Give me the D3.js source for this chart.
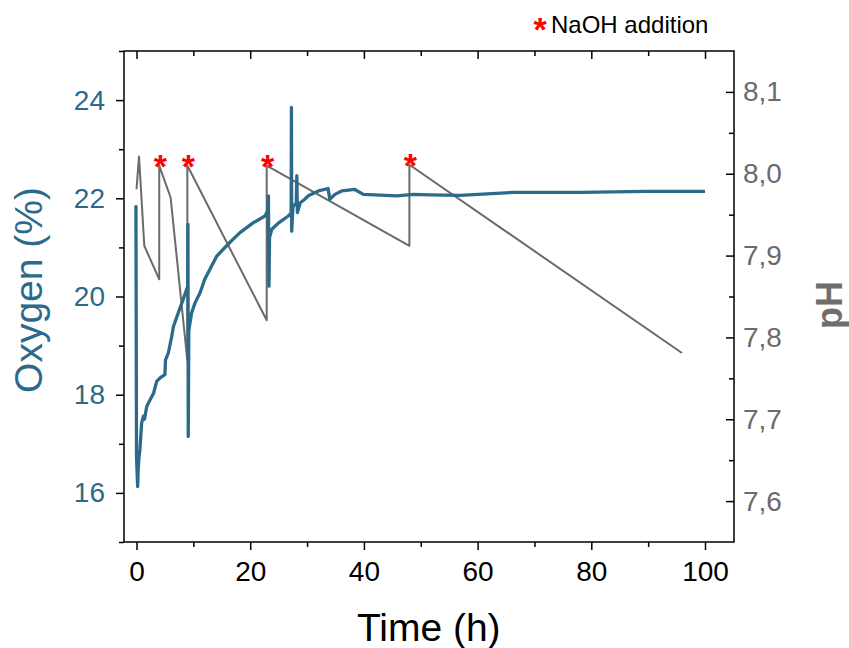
<!DOCTYPE html>
<html>
<head>
<meta charset="utf-8">
<script src="https://cdn.jsdelivr.net/npm/d3@7"></script>
<style>
  body { margin: 0; background: #fff; }
  svg { display: block; font-family: "Liberation Sans", Arial, sans-serif; }
</style>
</head>
<body>
<svg id="chart" width="849" height="648"></svg>
<script>
// ---- Data ----
const oxygenTime = [-0.1, 0.0, 0.2, 0.3, 0.44, 0.6, 0.9, 1.2, 1.4, 1.8, 2.4, 3.0, 3.55, 4.2, 5.0, 5.1, 5.6, 6.2, 6.5, 7.35, 8.2, 8.8, 9.0, 9.05, 9.1, 9.2, 9.4, 9.7, 10.3, 11.2, 12.0, 14.1, 16.4, 18.2, 20.5, 22.6, 23.1, 23.2, 23.3, 23.4, 23.8, 25.0, 26.7, 27.2, 27.25, 27.3, 27.5, 27.6, 28.1, 28.2, 28.3, 28.8, 29.6, 30.2, 32.0, 33.7, 34.0, 34.9, 36.1, 38.4, 39.9, 45.8, 48.7, 51.6, 56.9, 66.3, 78.0, 89.7, 100.0];
const oxygenValue = [21.86, 16.74, 16.13, 16.5, 16.74, 16.88, 17.42, 17.56, 17.5, 17.76, 17.90, 18.03, 18.27, 18.35, 18.41, 18.71, 18.85, 19.19, 19.39, 19.67, 19.94, 20.14, 20.2, 21.47, 17.15, 19.3, 19.46, 19.67, 19.87, 20.08, 20.35, 20.82, 21.10, 21.30, 21.50, 21.64, 21.75, 22.05, 20.21, 21.2, 21.37, 21.50, 21.64, 21.7, 23.85, 21.33, 21.8, 21.84, 21.9, 22.46, 21.71, 21.91, 21.98, 22.05, 22.15, 22.20, 21.98, 22.08, 22.15, 22.18, 22.08, 22.05, 22.08, 22.07, 22.06, 22.12, 22.12, 22.14, 22.14];

const phTime = [0, 0.44, 1.37, 4.0, 4.0, 6.0, 8.94, 8.94, 22.9, 22.9, 48.0, 48.0, 95.95];
const phValue = [7.981, 8.021, 7.912, 7.871, 8.010, 7.971, 7.772, 8.010, 7.821, 8.010, 7.912, 8.011, 7.781];

const additionTime = [4.0, 8.94, 22.9, 48.0];
const additionPH = [8.010, 8.010, 8.010, 8.011];

const xMajorTicks = [0, 20, 40, 60, 80, 100];
const xMinorTicks = [10, 30, 50, 70, 90];
const oxygenMajorTicks = [16, 18, 20, 22, 24];
const oxygenMinorTicks = [15, 17, 19, 21, 23, 25];
const phMajorTicks = [7.6, 7.7, 7.8, 7.9, 8.0, 8.1];
const phMinorTicks = [7.65, 7.75, 7.85, 7.95, 8.05];

const labels = {
  x: "Time (h)",
  oxygen: "Oxygen (%)",
  ph: "pH",
  legend: "NaOH addition"
};

// ---- Layout ----
const L = 124, R = 734, T = 51, B = 542;
const blue = "#2c6a8b", gray = "#6b6b6b", phLabelGray = "#6e6e6e";

const svg = d3.select("#chart");

const x = d3.scaleLinear().domain([-2.2, 105.1]).range([L, R]);
const yO = d3.scaleLinear().domain([15, 25]).range([B, T]);
const yP = d3.scaleLinear().domain([7.55, 8.15]).range([B, T]);

// ---- Series ----
const oxyData = oxygenTime.map((t, i) => [t, oxygenValue[i]]);
const phData = phTime.map((t, i) => [t, phValue[i]]);

svg.append("path")
  .datum(phData)
  .attr("fill", "none")
  .attr("stroke", "#6a6a6a")
  .attr("stroke-width", 2)
  .attr("stroke-linejoin", "round")
  .attr("d", d3.line().x(d => x(d[0])).y(d => yP(d[1])));

svg.append("path")
  .datum(oxyData)
  .attr("fill", "none")
  .attr("stroke", blue)
  .attr("stroke-width", 3.3)
  .attr("stroke-linejoin", "round")
  .attr("d", d3.line().x(d => x(d[0])).y(d => yO(d[1])));

// NaOH stars
svg.append("g").selectAll("text")
  .data(additionTime.map((t, i) => [t, additionPH[i]]))
  .join("text")
  .attr("x", d => x(d[0]) + 1)
  .attr("y", d => yP(d[1]) + 12)
  .attr("text-anchor", "middle")
  .attr("fill", "#ff0000")
  .attr("font-size", 34)
  .attr("font-weight", "bold")
  .text("*");

// ---- Axes ----
function styleAxis(g) {
  g.select(".domain").remove();
  g.selectAll(".tick line").attr("stroke", "#000").attr("stroke-width", 1.5);
}

// bottom
svg.append("g").attr("transform", `translate(0,${B})`)
  .call(d3.axisBottom(x).tickValues(xMajorTicks).tickSize(8).tickPadding(11).tickFormat(d3.format("d")))
  .call(styleAxis)
  .call(g => g.selectAll("text").attr("font-size", 28).attr("fill", "#000").attr("font-family", "Liberation Sans, Arial, sans-serif"));
svg.append("g").attr("transform", `translate(0,${B})`)
  .call(d3.axisBottom(x).tickValues(xMinorTicks).tickSize(5).tickFormat(""))
  .call(styleAxis);
// top (inward)
svg.append("g").attr("transform", `translate(0,${T})`)
  .call(d3.axisTop(x).tickValues(xMajorTicks).tickSize(-8).tickFormat(""))
  .call(styleAxis);
svg.append("g").attr("transform", `translate(0,${T})`)
  .call(d3.axisTop(x).tickValues(xMinorTicks).tickSize(-5).tickFormat(""))
  .call(styleAxis);
// left
svg.append("g").attr("transform", `translate(${L},0)`)
  .call(d3.axisLeft(yO).tickValues(oxygenMajorTicks).tickSize(8).tickPadding(11).tickFormat(d3.format("d")))
  .call(styleAxis)
  .call(g => g.selectAll("text").attr("font-size", 28).attr("fill", blue).attr("font-family", "Liberation Sans, Arial, sans-serif"));
svg.append("g").attr("transform", `translate(${L},0)`)
  .call(d3.axisLeft(yO).tickValues(oxygenMinorTicks).tickSize(5).tickFormat(""))
  .call(styleAxis);
// right (ticks inward)
const phFmt = d => d3.format(".1f")(d).replace(".", ",");
svg.append("g").attr("transform", `translate(${R},0)`)
  .call(d3.axisRight(yP).tickValues(phMajorTicks).tickSize(-8).tickPadding(9).tickFormat(phFmt))
  .call(styleAxis)
  .call(g => g.selectAll("text").attr("font-size", 28).attr("fill", gray).attr("font-family", "Liberation Sans, Arial, sans-serif"));
svg.append("g").attr("transform", `translate(${R},0)`)
  .call(d3.axisRight(yP).tickValues(phMinorTicks).tickSize(-5).tickFormat(""))
  .call(styleAxis);

// frame
svg.append("rect")
  .attr("x", L).attr("y", T).attr("width", R - L).attr("height", B - T)
  .attr("fill", "none").attr("stroke", "#000").attr("stroke-width", 1.5);

// ---- Titles ----
svg.append("text")
  .attr("x", (x(0) + x(100)) / 2 + 8).attr("y", 641)
  .attr("text-anchor", "middle").attr("font-size", 39).attr("fill", "#000")
  .text(labels.x);

svg.append("text")
  .attr("transform", "translate(42,290) rotate(-90)")
  .attr("text-anchor", "middle").attr("font-size", 39).attr("fill", blue)
  .text(labels.oxygen);

svg.append("text")
  .attr("transform", "translate(842,305) rotate(-90)")
  .attr("text-anchor", "middle").attr("font-size", 36).attr("font-weight", "bold").attr("fill", phLabelGray)
  .text(labels.ph);

// legend
svg.append("text")
  .attr("x", 540).attr("y", 41)
  .attr("text-anchor", "middle").attr("font-size", 34).attr("font-weight", "bold").attr("fill", "#ff0000")
  .text("*");
svg.append("text")
  .attr("x", 551).attr("y", 33)
  .attr("font-size", 24).attr("fill", "#000")
  .text(labels.legend);
</script>
</body>
</html>
